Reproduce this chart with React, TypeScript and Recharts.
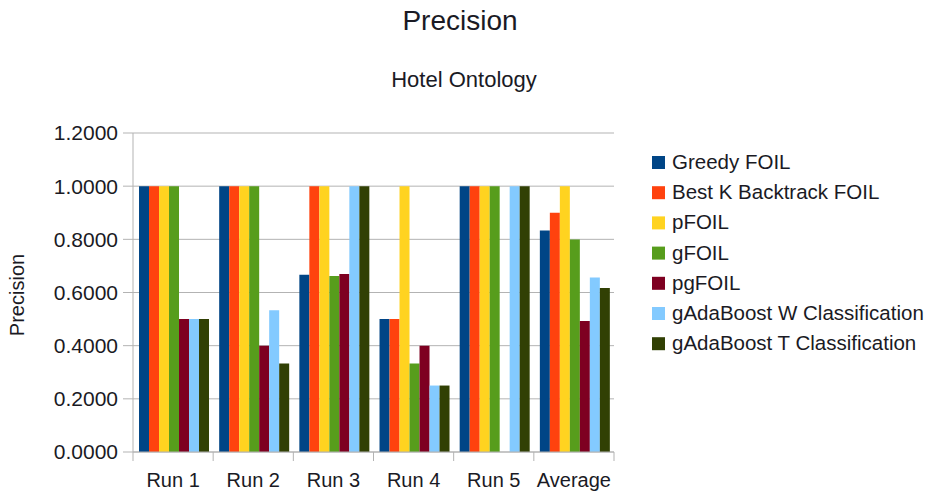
import { BarChart, Bar, XAxis, YAxis, CartesianGrid } from 'recharts';

const CATEGORIES = ['Run 1', 'Run 2', 'Run 3', 'Run 4', 'Run 5', 'Average'];

const SERIES_NAMES = [
  'Greedy FOIL',
  'Best K Backtrack FOIL',
  'pFOIL',
  'gFOIL',
  'pgFOIL',
  'gAdaBoost W Classification',
  'gAdaBoost T Classification',
];

const greedyFoil = [1, 1, 0.6667, 0.5, 1, 0.8333];
const bestKFoil = [1, 1, 1, 0.5, 1, 0.9];
const pFoil = [1, 1, 1, 1, 1, 1];
const gFoil = [1, 1, 0.6620, 0.3333, 1, 0.7990];
const pgFoil = [0.5, 0.4, 0.67, 0.4, null, 0.4925];
const adaW = [0.5, 0.5333, 1, 0.25, 1, 0.6567];
const adaT = [0.5, 0.3333, 1, 0.25, 1, 0.6167];

const Y_TICKS = [0, 0.2, 0.4, 0.6, 0.8, 1.0, 1.2];

const COLORS = ['#004586', '#ff420e', '#ffd320', '#579d1c', '#7e0021', '#83caff', '#314004'];

const ALL = [greedyFoil, bestKFoil, pFoil, gFoil, pgFoil, adaW, adaT];

const data = CATEGORIES.map((name, i) => {
  const row: Record<string, string | number | null> = { name };
  ALL.forEach((arr, s) => { row[`s${s}`] = arr[i]; });
  return row;
});

const FONT = '"Liberation Sans", Arial, sans-serif';
const GRID = '#b3b3b3';
const TEXT = '#1a1a24';

// plot geometry, used only to put the category boundary ticks
const W = 940;
const H = 495;
const X_AXIS_H = 30;
const MARGIN = { top: 133, right: 326, bottom: 43 - X_AXIS_H, left: 0 };
const Y_AXIS_W = 133;
const BAND = (W - MARGIN.left - MARGIN.right - Y_AXIS_W) / CATEGORIES.length;

function CatTick(props: any) {
  const { x, y, payload, index } = props;
  const half = BAND / 2;
  return (
    <g>
      <line x1={x - half} x2={x - half} y1={y} y2={y + 9} stroke={GRID} />
      {index === CATEGORIES.length - 1 && (
        <line x1={x + half} x2={x + half} y1={y} y2={y + 9} stroke={GRID} />
      )}
      <text x={x} y={y + 35} textAnchor="middle" fontSize={20} fill={TEXT} fontFamily={FONT}>
        {payload.value}
      </text>
    </g>
  );
}

export default function App() {
  return (
    <div style={{ position: 'absolute', left: 0, top: 0, width: W, height: H, background: '#fff', fontFamily: FONT }}>
      <BarChart
        width={W}
        height={H}
        data={data}
        margin={MARGIN}
        barCategoryGap="7.5%"
        barGap={0}
      >
        <CartesianGrid vertical={false} stroke={GRID} />
        <XAxis
          dataKey="name"
          height={X_AXIS_H}
          axisLine={{ stroke: GRID }}
          tickLine={false}
          tickSize={0}
          tickMargin={0}
          tick={<CatTick />}
          interval={0}
        />
        <YAxis
          width={Y_AXIS_W}
          domain={[0, 1.2]}
          ticks={Y_TICKS}
          interval={0}
          tickFormatter={(v: number) => v.toFixed(4)}
          axisLine={{ stroke: GRID }}
          tickLine={{ stroke: GRID }}
          tickSize={10}
          tickMargin={5}
          tick={{ fontSize: 21, fill: TEXT, fontFamily: FONT }}
        />
        <YAxis
          yAxisId="r"
          orientation="right"
          width={0}
          domain={[0, 1.2]}
          tick={false}
          tickLine={false}
          axisLine={{ stroke: GRID }}
        />
        {SERIES_NAMES.map((n, i) => (
          <Bar key={n} dataKey={`s${i}`} name={n} fill={COLORS[i]} isAnimationActive={false} />
        ))}
      </BarChart>
      <svg width={W} height={H} style={{ position: 'absolute', left: 0, top: 0, pointerEvents: 'none' }}>
        <text x={460} y={30} textAnchor="middle" fontSize={28} fill={TEXT} fontFamily={FONT}>Precision</text>
        <text x={464} y={87} textAnchor="middle" fontSize={22} fill={TEXT} fontFamily={FONT}>Hotel Ontology</text>
        <text x={24} y={295} textAnchor="middle" fontSize={20} fill={TEXT} fontFamily={FONT}
          transform="rotate(-90 24 295)">Precision</text>
        {SERIES_NAMES.map((n, i) => (
          <g key={n}>
            <rect x={652} y={162 + i * 30.2 - 6} width={13} height={13} fill={COLORS[i]} />
            <text x={672} y={162 + i * 30.2 + 7} fontSize={20.5} fill={TEXT} fontFamily={FONT}>{n}</text>
          </g>
        ))}
      </svg>
    </div>
  );
}
